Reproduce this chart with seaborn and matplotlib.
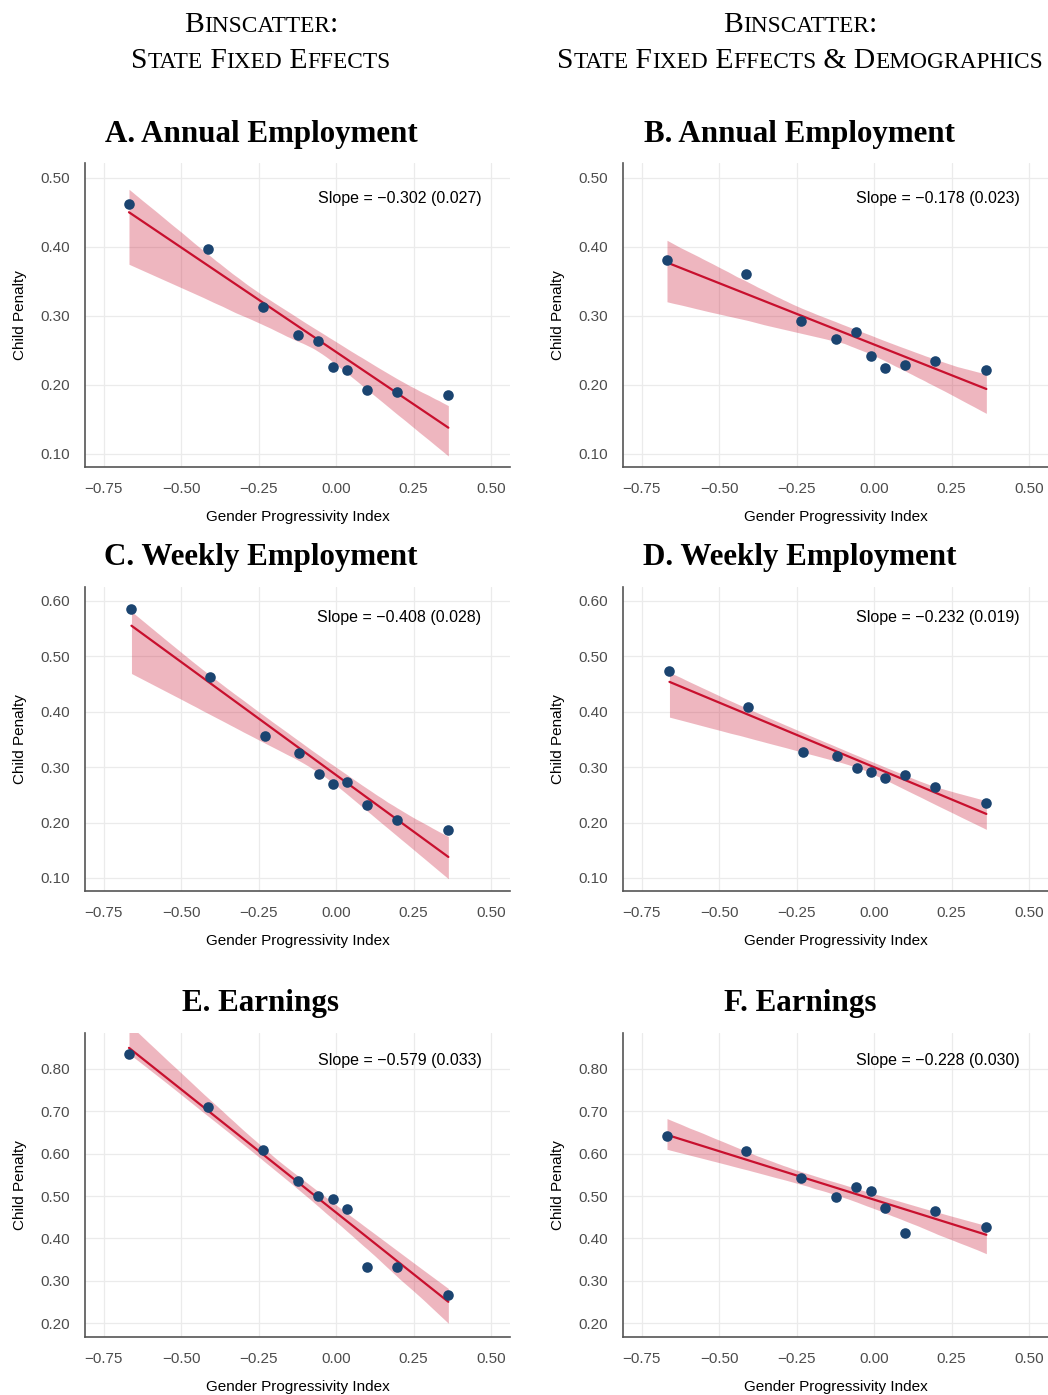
import numpy as np
import pandas as pd
import seaborn as sns
import matplotlib.pyplot as plt
from matplotlib.ticker import FuncFormatter, MultipleLocator
from matplotlib.collections import PolyCollection

# bin means of the gender progressivity index
x_annual = [-0.669, -0.415, -0.237, -0.122, -0.058, -0.009, 0.035, 0.100, 0.196, 0.362]
x_weekly = [-0.661, -0.408, -0.231, -0.121, -0.057, -0.010, 0.035, 0.100, 0.196, 0.362]

# child penalty per bin
annual_fe = [0.461, 0.397, 0.313, 0.272, 0.264, 0.226, 0.221, 0.192, 0.190, 0.185]
annual_demo = [0.380, 0.360, 0.292, 0.266, 0.277, 0.241, 0.225, 0.229, 0.235, 0.222]
weekly_fe = [0.585, 0.462, 0.356, 0.326, 0.287, 0.269, 0.274, 0.231, 0.204, 0.186]
weekly_demo = [0.473, 0.408, 0.327, 0.320, 0.298, 0.291, 0.281, 0.286, 0.264, 0.236]
earn_fe = [0.835, 0.710, 0.608, 0.535, 0.499, 0.493, 0.469, 0.334, 0.332, 0.268]
earn_demo = [0.641, 0.607, 0.542, 0.498, 0.522, 0.513, 0.473, 0.412, 0.464, 0.428]

titles = ["A. Annual Employment", "B. Annual Employment",
          "C. Weekly Employment", "D. Weekly Employment",
          "E. Earnings", "F. Earnings"]
slope_labels = ["\u22120.302 (0.027)", "\u22120.178 (0.023)",
                "\u22120.408 (0.028)", "\u22120.232 (0.019)",
                "\u22120.579 (0.033)", "\u22120.228 (0.030)"]
headers = [["Binscatter:", "State Fixed Effects"],
           ["Binscatter:", "State Fixed Effects & Demographics"]]

xs = [x_annual, x_annual, x_weekly, x_weekly, x_annual, x_annual]
ys = [annual_fe, annual_demo, weekly_fe, weekly_demo, earn_fe, earn_demo]

row_ylim = [(0.081, 0.521), (0.0765, 0.625), (0.168, 0.884)]
row_yticks = [np.arange(0.1, 0.51, 0.1), np.arange(0.1, 0.61, 0.1), np.arange(0.2, 0.81, 0.1)]

RED = "#C8102E"
NAVY = "#1B4470"

sns.set_theme(style="whitegrid")
plt.rcParams["font.family"] = ["Liberation Sans", "DejaVu Sans"]
plt.rcParams["text.color"] = "black"

W, H = 1048, 1395
fig = plt.figure(figsize=(W / 100, H / 100), dpi=100)

lefts = [85, 623]
tops = [163, 587, 1033]
aw, ah = 425, 304
title_base = [142, 565, 1011]
col_center = [261, 800]


def fmt(v, pos):
    s = f"{v:.2f}"
    if s == "-0.00":
        s = "0.00"
    return s.replace("-", "\u2212")


for i in range(6):
    r, c = divmod(i, 2)
    ax = fig.add_axes([lefts[c] / W, 1 - (tops[r] + ah) / H, aw / W, ah / H])
    df = pd.DataFrame({"gpi": xs[i], "cp": ys[i]})
    sns.regplot(data=df, x="gpi", y="cp", ax=ax, ci=95, n_boot=2000, seed=7,
                color=RED,
                scatter_kws=dict(s=58, color=NAVY, alpha=1, linewidths=0, zorder=4),
                line_kws=dict(color=RED, lw=1.6, zorder=3))
    for coll in ax.collections:
        if isinstance(coll, PolyCollection):
            coll.set_alpha(0.3)
            coll.set_linewidth(0)

    ax.set_xlim(-0.811, 0.561)
    ax.set_ylim(*row_ylim[r])
    ax.xaxis.set_major_locator(MultipleLocator(0.25))
    ax.set_yticks(row_yticks[r])
    ax.xaxis.set_major_formatter(FuncFormatter(fmt))
    ax.yaxis.set_major_formatter(FuncFormatter(fmt))
    ax.tick_params(length=0, pad=11, labelsize=11, labelcolor="#4d4d4d")
    ax.grid(color="#ebebeb", lw=0.9)
    ax.set_facecolor("white")
    for s in ["top", "right"]:
        ax.spines[s].set_visible(False)
    for s in ["left", "bottom"]:
        ax.spines[s].set_color("#555555")
        ax.spines[s].set_linewidth(1.2)

    ax.set_xlabel("Gender Progressivity Index", fontsize=11, color="black")
    ax.set_ylabel("Child Penalty", fontsize=11, color="black")
    ax.xaxis.set_label_coords(0.5, -0.143)
    ax.yaxis.set_label_coords(-0.136, 0.5)

    ax.text(0.933, [0.882, 0.9, 0.911][r], "Slope = " + slope_labels[i],
            transform=ax.transAxes, ha="right", va="center", fontsize=11.5,
            color="black")

    fig.text(col_center[c] / W, 1 - title_base[r] / H, titles[i],
             ha="center", va="baseline", fontsize=22.3, fontweight="bold",
             family="Liberation Serif", color="black")


# small caps headers
renderer = fig.canvas.get_renderer()


def smallcaps(text, xc, base, big=21.3, small=16.8):
    runs = []
    for ch in text:
        size = small if ch.islower() else big
        if runs and runs[-1][1] == size:
            runs[-1][0] += ch.upper()
        else:
            runs.append([ch.upper(), size])
    parts = []
    total = 0
    for s, size in runs:
        t = fig.text(0, 1 - base / H, s, fontsize=size, family="Liberation Serif",
                     ha="left", va="baseline", color="black")
        w = t.get_window_extent(renderer).width
        parts.append((t, w))
        total += w
    x = xc - total / 2
    for t, w in parts:
        t.set_x(x / W)
        x += w


for c in range(2):
    smallcaps(headers[c][0], col_center[c], 32)
    smallcaps(headers[c][1], col_center[c], 68)

fig.savefig("out.png", dpi=100)
